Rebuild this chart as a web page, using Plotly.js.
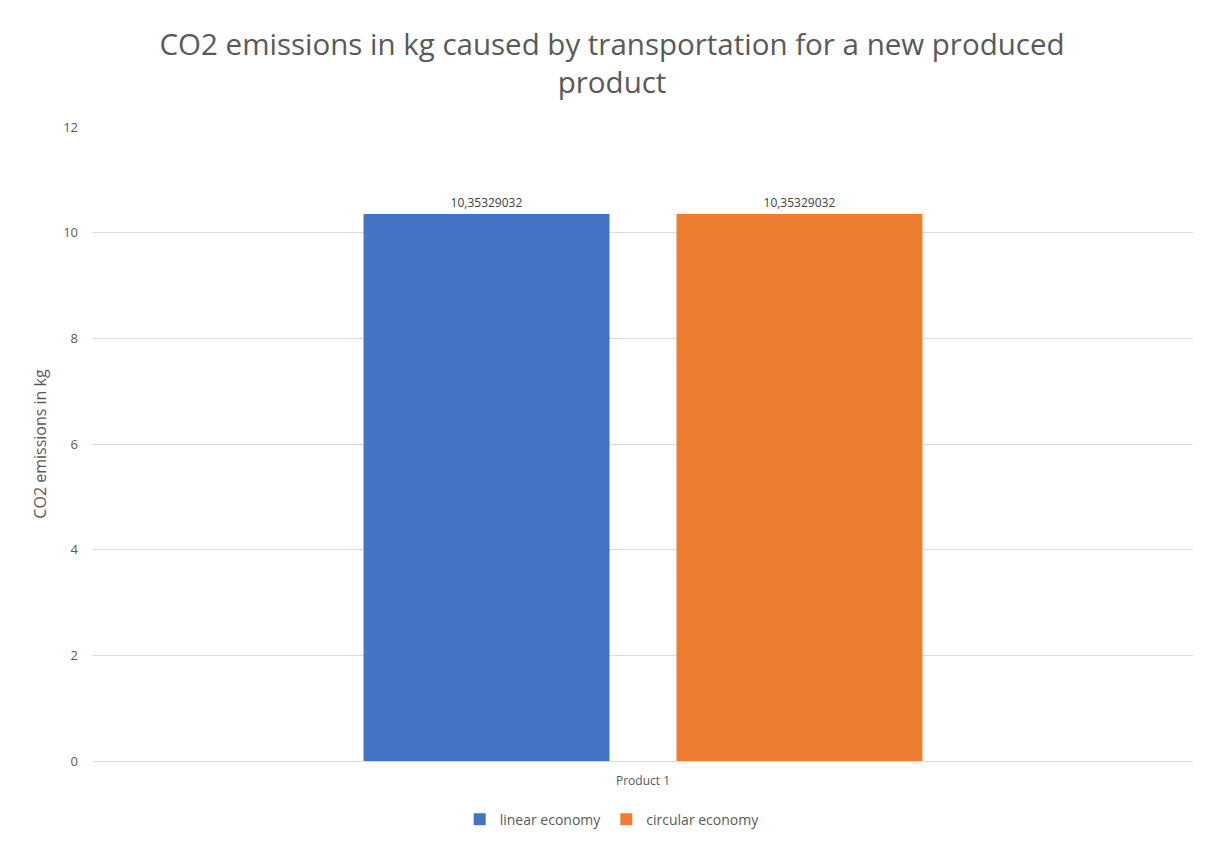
<!DOCTYPE html>
<html>
<head>
<meta charset="utf-8">
<script src="https://cdn.plot.ly/plotly-3.0.1.min.js"></script>
<style>html,body{margin:0;padding:0;background:#fff;}#chart{width:1212px;height:845px;}</style>
</head>
<body>
<div id="chart"></div>
<script>
const categories = ["Product 1"];
const linearEconomy = [10.35329032];
const circularEconomy = [10.35329032];
const seriesNames = ["linear economy", "circular economy"];
const yTicks = [0, 2, 4, 6, 8, 10, 12];

const font = "Open Sans, Noto Sans, sans-serif";
const traces = [
  {type: "bar", x: categories, y: linearEconomy, name: seriesNames[0],
   marker: {color: "#4472c4"}, texttemplate: "%{y:.8f}", textposition: "outside",
   textfont: {size: 12, color: "#404040", family: font}, cliponaxis: false, hoverinfo: "skip"},
  {type: "bar", x: categories, y: circularEconomy, name: seriesNames[1],
   marker: {color: "#ed7d31"}, texttemplate: "%{y:.8f}", textposition: "outside",
   textfont: {size: 12, color: "#404040", family: font}, cliponaxis: false, hoverinfo: "skip"}
];
const layout = {
  width: 1212, height: 845,
  separators: ",.",
  paper_bgcolor: "#fff", plot_bgcolor: "#fff",
  margin: {l: 93, r: 19, t: 127, b: 84, autoexpand: false},
  font: {family: font, color: "#595959"},
  title: {text: "CO2 emissions in kg caused by transportation for a new produced<br>product",
          font: {size: 29.5, color: "#595959", family: font},
          x: 0.505, xanchor: "center", xref: "container", y: 0.935, yanchor: "middle", yref: "container"},
  barmode: "group", bargap: 0.431, bargroupgap: 0.214,
  xaxis: {showgrid: false, showline: true, linecolor: "#d9d9d9", linewidth: 1,
          tickfont: {size: 12, color: "#595959"}, ticks: "", ticklabelstandoff: 9},
  yaxis: {range: [0, 12], tickvals: yTicks, showgrid: true, gridcolor: "#d9d9d9", gridwidth: 1,
          zeroline: false, showline: false, ticks: "", ticklabelstandoff: 14,
          tickfont: {size: 13, color: "#595959"},
          title: {text: "CO2 emissions in kg", font: {size: 16, color: "#595959"}, standoff: 12}},
  legend: {orientation: "h", x: 0.472, xanchor: "center", xref: "paper",
           y: 0.03, yanchor: "middle", yref: "container",
           font: {size: 14, color: "#595959"}, itemwidth: 30, tracegroupgap: 0},
  showlegend: true
};
Plotly.newPlot("chart", traces, layout, {displayModeBar: false, staticPlot: true});
</script>
</body>
</html>
